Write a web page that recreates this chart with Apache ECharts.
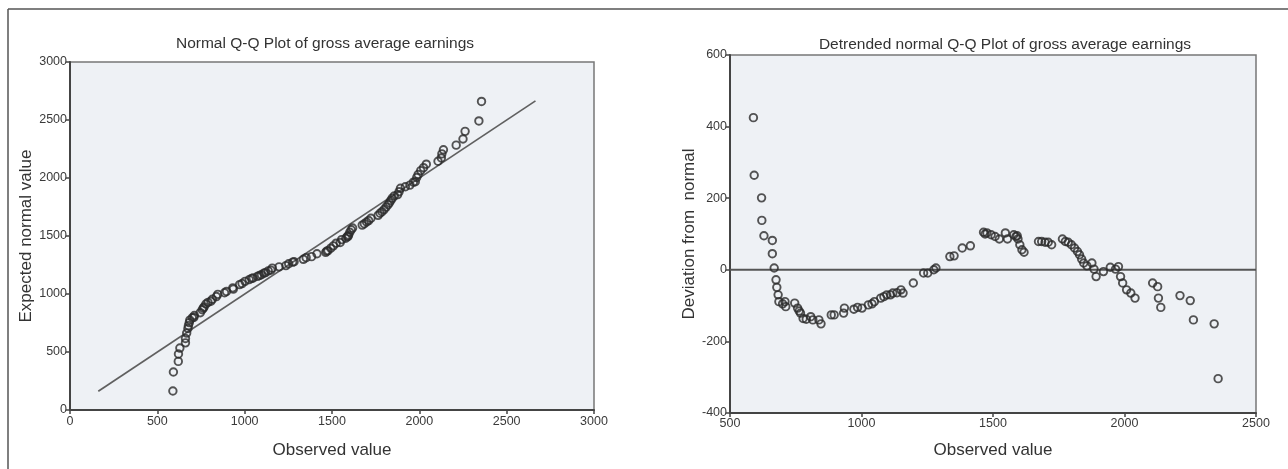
<!DOCTYPE html>
<html><head><meta charset="utf-8">
<script src="https://cdn.jsdelivr.net/npm/echarts@6/dist/echarts.min.js"></script>
<style>html,body{margin:0;padding:0;background:#fff}#c{width:1288px;height:469px}</style>
</head><body><div id="c"></div>
<script>
// Observed values (shared by both panels)
const observed = [589,592,620,621,629,661,661,668,675,678,683,686,700,709,712,746,757,763,768,778,790,807,815,838,846,885,896,932,935,971,985,1002,1026,1040,1049,1073,1085,1096,1110,1119,1135,1150,1158,1197,1236,1252,1275,1283,1336,1352,1383,1414,1464,1470,1477,1493,1508,1524,1547,1555,1579,1587,1592,1595,1602,1610,1618,1673,1685,1698,1710,1723,1764,1775,1786,1798,1810,1821,1829,1837,1845,1857,1876,1884,1892,1920,1946,1966,1977,1985,1993,2008,2024,2040,2107,2126,2129,2138,2211,2250,2262,2341,2356];
// Expected normal values (left panel)
const expected = [164,328,419,483,534,579,616,663,703,727,753,775,795,798,815,839,864,878,889,914,928,938,955,978,997,1011,1022,1053,1042,1081,1090,1109,1124,1135,1138,1152,1160,1166,1180,1184,1199,1206,1223,1234,1245,1261,1275,1278,1299,1313,1322,1347,1359,1370,1374,1395,1415,1438,1444,1469,1481,1494,1497,1509,1532,1554,1569,1594,1606,1621,1633,1653,1678,1696,1709,1728,1749,1770,1787,1807,1826,1846,1857,1882,1911,1925,1939,1964,1968,2004,2030,2064,2089,2119,2144,2173,2208,2243,2283,2336,2402,2492,2660];
// Deviation from normal (right panel)
const deviation = [425,264,201,138,95,82,45,5,-28,-49,-70,-89,-95,-89,-103,-93,-107,-115,-121,-136,-138,-131,-140,-140,-151,-126,-126,-121,-107,-110,-105,-107,-98,-95,-89,-79,-75,-70,-70,-65,-64,-56,-65,-37,-9,-9,0,5,37,39,61,67,105,100,103,98,93,86,103,86,98,93,95,86,70,56,49,79,79,77,77,70,86,79,77,70,61,51,42,30,19,11,19,2,-19,-5,7,2,9,-19,-37,-56,-65,-79,-37,-47,-79,-105,-72,-86,-140,-151,-304];
// Reference lines
const qqLine = [[162,162],[2665,2665]];
const zeroLine = [[500,0],[2500,0]];
// Tick settings
const leftTicks = {min:0,max:3000,interval:500};
const rightXTicks = {min:500,max:2500,interval:500};
const rightYTicks = {min:-400,max:600,interval:200};

const font = 'Liberation Sans, Arial, sans-serif';
const labelStyle = {color:'#3a3a3a', fontSize:12.5, fontFamily:font, formatter:v=>String(v)};
const nameStyle = {color:'#333', fontSize:17, fontFamily:font};
const axisLine = {show:true, onZero:false, lineStyle:{color:'#444', width:2}};
const axisTick = {show:true, length:4, lineStyle:{color:'#444', width:1.5}};
const pointStyle = {color:'rgba(0,0,0,0)', borderColor:'#2a2a2a', borderWidth:1.9};

const chart = echarts.init(document.getElementById('c'));
chart.setOption({
  backgroundColor:'#fff',
  animation:false,
  title:[
    {text:'Normal Q-Q Plot of gross average earnings', left:320, top:31, textAlign:'center',
     textStyle:{fontSize:15.5, fontWeight:'normal', color:'#333', fontFamily:font}},
    {text:'Detrended normal Q-Q Plot of gross average earnings', left:1000, top:32, textAlign:'center',
     textStyle:{fontSize:15.5, fontWeight:'normal', color:'#333', fontFamily:font}}
  ],
  graphic:[
    {type:'line', shape:{x1:8,y1:9,x2:1288,y2:9}, style:{stroke:'#555', lineWidth:1.5}},
    {type:'line', shape:{x1:8,y1:9,x2:8,y2:469}, style:{stroke:'#555', lineWidth:1.5}}
  ],
  grid:[
    {left:70, top:62, width:524, height:348, show:true, backgroundColor:'#eef1f5', borderColor:'#777', borderWidth:1.5},
    {left:730, top:55, width:526, height:358, show:true, backgroundColor:'#eef1f5', borderColor:'#777', borderWidth:1.5}
  ],
  xAxis:[
    {gridIndex:0, type:'value', min:leftTicks.min, max:leftTicks.max, interval:leftTicks.interval,
     name:'Observed value', nameLocation:'middle', nameGap:32, nameTextStyle:nameStyle,
     axisLine:axisLine, axisTick:axisTick, axisLabel:Object.assign({margin:5},labelStyle), splitLine:{show:false}},
    {gridIndex:1, type:'value', min:rightXTicks.min, max:rightXTicks.max, interval:rightXTicks.interval,
     name:'Observed value', nameLocation:'middle', nameGap:29, nameTextStyle:nameStyle,
     axisLine:axisLine, axisTick:axisTick, axisLabel:Object.assign({margin:4},labelStyle), splitLine:{show:false}}
  ],
  yAxis:[
    {gridIndex:0, type:'value', min:leftTicks.min, max:leftTicks.max, interval:leftTicks.interval,
     name:'Expected normal value', nameLocation:'middle', nameGap:34, nameTextStyle:nameStyle,
     axisLine:axisLine, axisTick:axisTick, axisLabel:Object.assign({margin:3},labelStyle), splitLine:{show:false}},
    {gridIndex:1, type:'value', min:rightYTicks.min, max:rightYTicks.max, interval:rightYTicks.interval,
     name:'Deviation from  normal', nameLocation:'middle', nameGap:30, nameTextStyle:nameStyle,
     axisLine:axisLine, axisTick:axisTick, axisLabel:Object.assign({margin:3},labelStyle), splitLine:{show:false}}
  ],
  series:[
    {type:'line', xAxisIndex:0, yAxisIndex:0, data:qqLine, symbol:'none', silent:true,
     lineStyle:{color:'#606060', width:1.7}, z:2},
    {type:'scatter', xAxisIndex:0, yAxisIndex:0, symbol:'circle', symbolSize:7.5,
     data:observed.map((v,i)=>[v,expected[i]]), itemStyle:pointStyle, z:3},
    {type:'line', xAxisIndex:1, yAxisIndex:1, data:zeroLine, symbol:'none', silent:true,
     lineStyle:{color:'#555', width:2}, z:2},
    {type:'scatter', xAxisIndex:1, yAxisIndex:1, symbol:'circle', symbolSize:7.5,
     data:observed.map((v,i)=>[v,deviation[i]]), itemStyle:pointStyle, z:3}
  ]
});
</script></body></html>
